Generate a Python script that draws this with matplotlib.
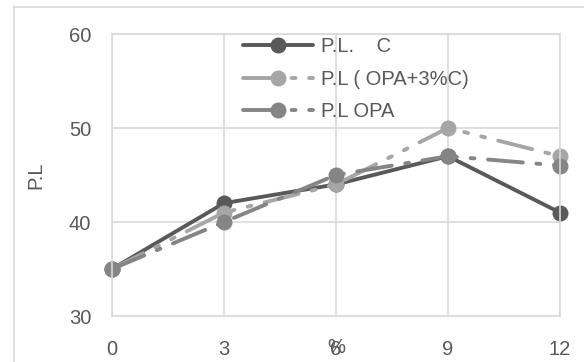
import matplotlib.pyplot as plt
from matplotlib.lines import Line2D

# data
x_pct = [0, 3, 6, 9, 12]
pl_c = [35, 42, 44, 47, 41]
pl_opa_3c = [35, 41, 44, 50, 47]
pl_opa = [35, 40, 45, 47, 46]
labels = ["P.L.    C", "P.L ( OPA+3%C)", "P.L OPA"]

plt.rcParams['font.family'] = ['Liberation Sans', 'DejaVu Sans']
txt = '#595959'
grid = '#D9D9D9'

W, H = 584, 362
fig = plt.figure(figsize=(W / 100, H / 100), dpi=100)
ax = fig.add_axes([112 / W, 1 - 316 / H, 448 / W, 282 / H])

# outer chart border (cropped at right/bottom)
fig.add_artist(Line2D([14 / W, 14 / W], [0, 1 - 7 / H], color=grid, lw=1.2))
fig.add_artist(Line2D([14 / W, 1], [1 - 7 / H, 1 - 7 / H], color=grid, lw=1.2))

lw = 2.8
ms = 10.5
fs = 14.5
ax.plot(x_pct, pl_c, color='#595959', lw=lw, marker='o', ms=ms,
        label=labels[0], solid_capstyle='round')
ax.plot(x_pct, pl_opa_3c, color='#A6A6A6', lw=lw, marker='o', ms=ms,
        ls=(0, (9, 3.5, 1, 3.5, 1, 3.5)), dash_capstyle='round', label=labels[1])
ax.plot(x_pct, pl_opa, color='#858585', lw=lw, marker='o', ms=ms,
        ls=(0, (9, 3.5, 1, 3.5)), dash_capstyle='round', label=labels[2])

ax.set_xlim(0, 12)
ax.set_ylim(30, 60)
ax.set_xticks(x_pct)
ax.set_yticks([30, 40, 50, 60])
ax.grid(True, color=grid, lw=1.2)
ax.set_axisbelow(True)
for s in ax.spines.values():
    s.set_color(grid)
    s.set_linewidth(1.2)
for line in ax.get_lines():
    line.set_clip_on(False)

ax.tick_params(axis='both', length=0, labelsize=fs, labelcolor=txt)
ax.tick_params(axis='x', pad=17)
ax.tick_params(axis='y', pad=15)

ax.set_xlabel('%', fontsize=fs, color=txt)
ax.xaxis.set_label_coords(0.5, -0.113)
ax.xaxis.label.set_va('center')
ax.set_ylabel('P.L', fontsize=fs, color=txt)
ax.yaxis.set_label_coords(-0.17, 0.5)
ax.yaxis.label.set_va('center')

leg = ax.legend(loc='upper left', bbox_to_anchor=(243 / W, 1 - 37 / H),
                bbox_transform=fig.transFigure, frameon=False, fontsize=fs,
                handlelength=3.5, handletextpad=0.35, borderpad=0,
                labelspacing=0.68, borderaxespad=0, labelcolor=txt)

fig.savefig('out.png', dpi=100)
